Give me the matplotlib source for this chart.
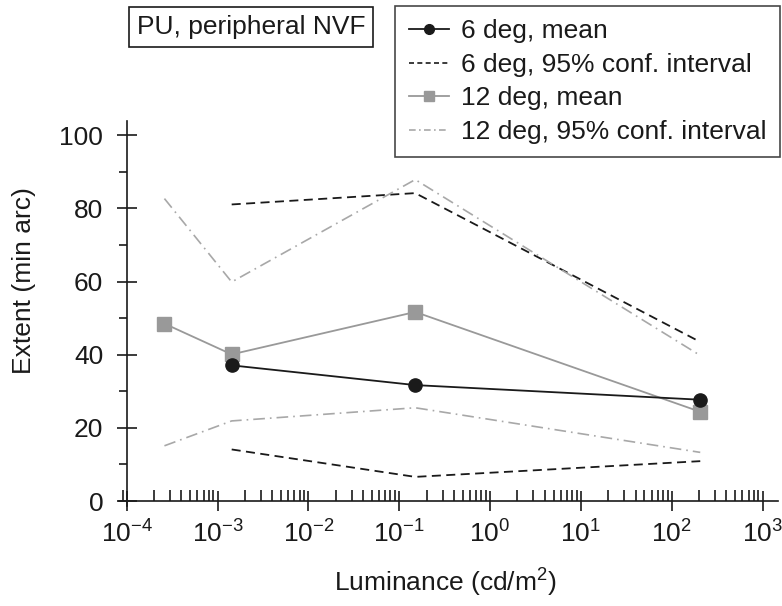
import matplotlib
matplotlib.use('Agg')
import matplotlib.pyplot as plt
from matplotlib.ticker import LogLocator, MultipleLocator, FixedLocator
from matplotlib.lines import Line2D

plt.rcParams['font.family'] = ['Liberation Sans', 'DejaVu Sans']
plt.rcParams['mathtext.fontset'] = 'custom'
plt.rcParams['mathtext.rm'] = 'Liberation Sans'
plt.rcParams['mathtext.it'] = 'Liberation Sans'

# luminance levels (cd/m^2)
lum_6 = [1.43e-3, 0.15, 206]
lum_12 = [2.6e-4, 1.43e-3, 0.15, 206]

# 6 deg
mean_6 = [37.1, 31.7, 27.7]
ci_lo_6 = [14.1, 6.6, 10.9]
ci_hi_6 = [81.1, 84.2, 43.5]

# 12 deg
mean_12 = [48.5, 40.1, 51.7, 24.4]
ci_lo_12 = [15.1, 21.9, 25.5, 13.3]
ci_hi_12 = [82.7, 59.9, 87.9, 39.8]

labels = ['6 deg, mean', '6 deg, 95% conf. interval', '12 deg, mean',
          '12 deg, 95% conf. interval']

dark = '#1a1a1a'
gray = '#999999'
lgray = '#a8a8a8'

fig = plt.figure(figsize=(7.82, 6.06), dpi=100)
ax = fig.add_axes([0.1522, 0.1642, 0.8427, 0.6366])

ax.plot(lum_6, ci_lo_6, color=dark, lw=1.3, ls=(0, (5, 3)))
ax.plot(lum_6, ci_hi_6, color=dark, lw=1.3, ls=(0, (5, 3)))
ax.plot(lum_12, ci_lo_12, color=lgray, lw=1.2, ls=(0, (7, 3, 1, 3)))
ax.plot(lum_12, ci_hi_12, color=lgray, lw=1.2, ls=(0, (7, 3, 1, 3)))
ax.plot(lum_12, mean_12, color=gray, lw=1.3, marker='s', ms=10.5, mec=gray, mfc=gray)
ax.plot(lum_6, mean_6, color=dark, lw=1.3, marker='o', ms=9.5, mfc=dark, mec=dark)

ax.set_xscale('log')
ax.set_xlim(10 ** -4.085, 10 ** 3.17)
ax.set_ylim(-1.5, 104)

for s in ['top', 'right']:
    ax.spines[s].set_visible(False)
ax.spines['left'].set_position(('data', 1e-4))
ax.spines['bottom'].set_position(('data', 0))
for s in ['left', 'bottom']:
    ax.spines[s].set_linewidth(1.2)
    ax.spines[s].set_color(dark)

ax.xaxis.set_major_locator(LogLocator(base=10, numticks=20))
ax.xaxis.set_minor_locator(LogLocator(base=10, subs=range(2, 10), numticks=20))
ax.yaxis.set_major_locator(MultipleLocator(20))
ax.yaxis.set_minor_locator(FixedLocator([10, 30, 50, 70, 90]))

ax.tick_params(axis='x', which='major', direction='inout', length=14, width=1.2,
               labelsize=19, pad=7, color=dark, labelcolor=dark)
ax.tick_params(axis='x', which='minor', direction='in', length=8, width=1.2, color=dark)
ax.tick_params(axis='y', which='major', direction='inout', length=14, width=1.2,
               labelsize=19, pad=10, color=dark, labelcolor=dark)
ax.tick_params(axis='y', which='minor', direction='out', length=6, width=1.2, color=dark)

fig.text(0.031, 0.537, 'Extent (min arc)', rotation=90, fontsize=19,
         ha='center', va='center', color=dark)
fig.text(0.57, 0.038, r'Luminance (cd/m$^2$)', fontsize=19,
         ha='center', va='center', color=dark)

fig.text(0.321, 0.956, 'PU, peripheral NVF', fontsize=19, ha='center', va='center',
         color=dark,
         bbox=dict(boxstyle='square,pad=0.3', fc='white', ec=dark, lw=1.2))

handles = [
    Line2D([], [], color=dark, lw=1.3, marker='o', ms=7, mfc=dark, mec=dark),
    Line2D([], [], color=dark, lw=1.2, ls=(0, (3, 2))),
    Line2D([], [], color=gray, lw=1.3, marker='s', ms=7, mfc=gray, mec=gray),
    Line2D([], [], color=lgray, lw=1.2, ls=(0, (4, 2, 1, 2))),
]
leg = fig.legend(handles, labels, loc='upper right', bbox_to_anchor=(0.9975, 0.990),
                 fontsize=19, frameon=True, fancybox=False, handlelength=1.55,
                 handletextpad=0.45, labelspacing=0.36, borderpad=0.5,
                 borderaxespad=0, labelcolor=dark)
leg.get_frame().set_edgecolor(dark)
leg.get_frame().set_linewidth(1.2)

fig.savefig('out.png', dpi=100)
